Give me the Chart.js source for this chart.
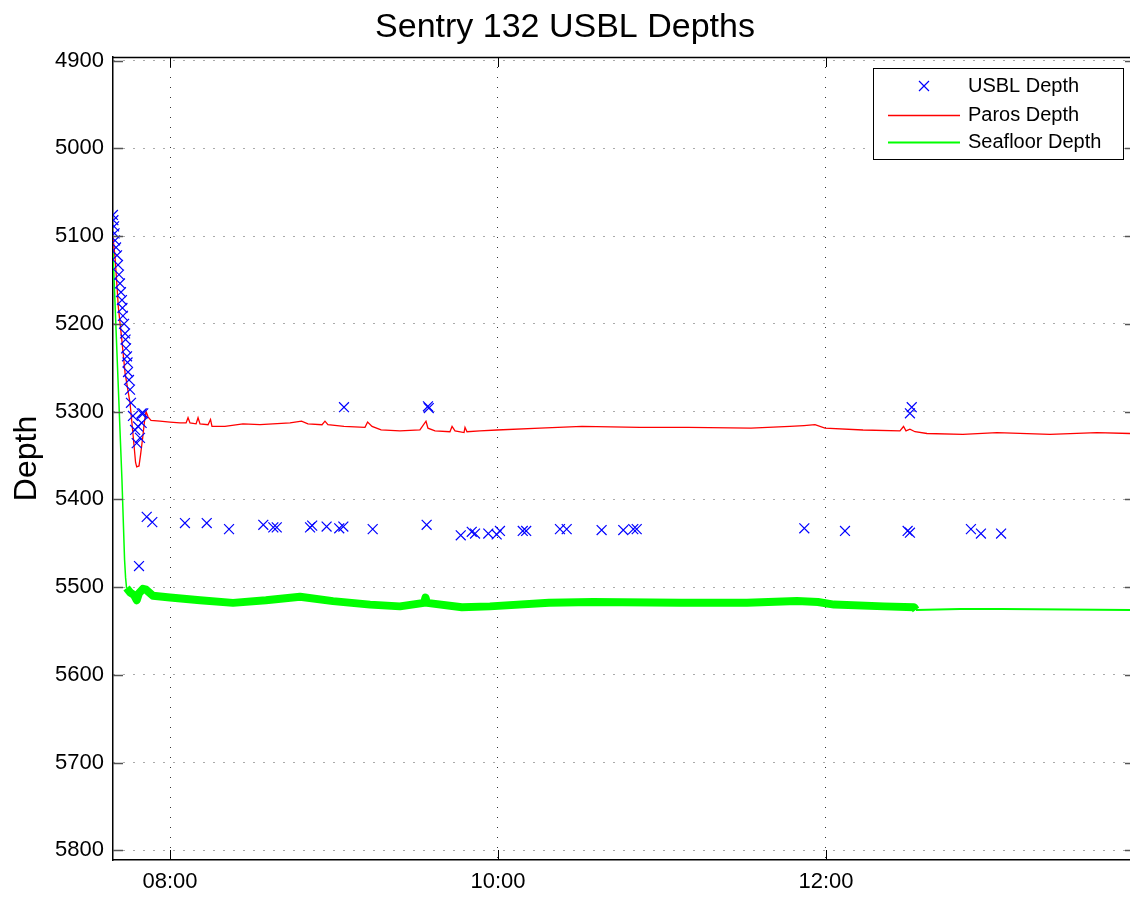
<!DOCTYPE html>
<html>
<head>
<meta charset="utf-8">
<title>Sentry 132 USBL Depths</title>
<script src="https://cdn.jsdelivr.net/npm/chart.js@4.4.0/dist/chart.umd.min.js"></script>
<style>
  html, body { margin: 0; padding: 0; background: #ffffff; }
  canvas { display: block; }
</style>
</head>
<body>
<canvas id="chart" width="1130" height="897"></canvas>
<script>
// Time of day in decimal hours, depth in metres.

// USBL fixes
const usblTime = [
  7.652, 7.655, 7.659, 7.662, 7.665, 7.671, 7.677, 7.683, 7.689, 7.695,
  7.701, 7.707, 7.710, 7.713, 7.720, 7.726, 7.729, 7.732, 7.738, 7.741,
  7.744, 7.750, 7.756, 7.762, 7.774, 7.787, 7.797, 7.805, 7.811, 7.817,
  7.827, 7.827, 7.837, 7.858, 7.892, 8.091, 8.224, 8.360, 8.569, 8.630,
  8.651, 8.854, 8.867, 8.955, 9.032, 9.057, 9.061, 9.236, 9.565, 9.573,
  9.578, 9.773, 9.840, 9.860, 9.941, 9.992, 10.012, 10.151, 10.172, 10.378,
  10.419, 10.632, 10.764, 10.825, 10.846, 11.868, 12.116, 12.498, 12.512, 12.512,
  12.523, 12.884, 12.945, 13.068
];
const usblDepth = [
  5076, 5082, 5089, 5097, 5105, 5113, 5122, 5133, 5144, 5154,
  5164, 5173, 5182, 5191, 5200, 5211, 5218, 5228, 5237, 5244,
  5255, 5264, 5275, 5290, 5305, 5321, 5336, 5317, 5476, 5330,
  5313, 5302, 5302, 5420, 5426, 5427, 5427, 5434, 5429, 5432,
  5432, 5432, 5430, 5431, 5433, 5431, 5295, 5434, 5429, 5294,
  5296, 5441, 5437, 5439, 5439, 5440, 5436, 5436, 5436, 5434,
  5434, 5435, 5435, 5434, 5434, 5433, 5436, 5436, 5438, 5302,
  5295, 5434, 5439, 5439
];

// Paros pressure depth
const parosTime = [
  7.652, 7.665, 7.685, 7.706, 7.726, 7.756, 7.776, 7.790, 7.797, 7.811,
  7.820, 7.834, 7.845, 7.854, 7.866, 7.884, 7.939, 8.000, 8.061, 8.098,
  8.110, 8.122, 8.159, 8.171, 8.183, 8.232, 8.247, 8.256, 8.335, 8.445,
  8.549, 8.732, 8.802, 8.841, 8.927, 8.945, 8.963, 9.061, 9.189, 9.205,
  9.232, 9.287, 9.402, 9.524, 9.561, 9.573, 9.616, 9.707, 9.720, 9.738,
  9.793, 9.799, 9.811, 9.890, 9.994, 10.256, 10.512, 10.866, 11.159, 11.543,
  11.780, 11.866, 11.933, 11.994, 12.226, 12.451, 12.473, 12.488, 12.512, 12.543,
  12.616, 12.835, 13.043, 13.366, 13.652, 13.854
];
const parosDepth = [
  5101, 5124, 5181, 5218, 5256, 5290, 5329, 5358, 5363, 5362,
  5350, 5329, 5310, 5300, 5306, 5310, 5311, 5312, 5313, 5313,
  5307, 5313, 5314, 5307, 5314, 5315, 5309, 5317, 5317, 5314,
  5315, 5313, 5311, 5314, 5315, 5311, 5315, 5317, 5318, 5312,
  5317, 5321, 5322, 5321, 5311, 5319, 5322, 5323, 5317, 5322,
  5324, 5318, 5323, 5322, 5321, 5319, 5317, 5318, 5318, 5319,
  5317, 5316, 5315, 5319, 5321, 5322, 5317, 5322, 5320, 5323,
  5325, 5326, 5324, 5326, 5324, 5325
];

// Seafloor depth (vehicle depth + altitude)
const seafloorTime = [
  7.652, 7.683, 7.707, 7.723, 7.729, 7.735, 7.756, 7.780, 7.797, 7.811,
  7.835, 7.854, 7.896, 8.000, 8.183, 8.384, 8.585, 8.793, 8.994, 9.220,
  9.402, 9.549, 9.558, 9.567, 9.780, 9.951, 10.311, 10.579, 11.116, 11.518,
  11.823, 11.951, 12.049, 12.354, 12.537, 12.549, 12.817, 13.079, 13.854
];
const seafloorDepth = [
  5116, 5264, 5378, 5469, 5489, 5501, 5506, 5509, 5515, 5507,
  5502, 5503, 5510, 5512, 5515, 5518, 5515, 5511, 5516, 5520,
  5522, 5518, 5512, 5518, 5523, 5522, 5518, 5517, 5518, 5518,
  5516, 5517, 5520, 5522, 5523, 5526, 5525, 5525, 5526
];

// Axis ticks
const timeTicks = [8, 10, 12];
const timeTickLabels = ['08:00', '10:00', '12:00'];
const depthTicks = [4900, 5000, 5100, 5200, 5300, 5400, 5500, 5600, 5700, 5800];

// Span where the altimeter-derived seafloor trace is noisy (drawn as a wide band)
const bottomLockStart = 7.735;
const bottomLockEnd = 12.545;

const FONT = "'Liberation Sans', Arial, Helvetica, sans-serif";
Chart.defaults.font.family = FONT;
Chart.defaults.color = '#000000';

const pts = (xs, ys) => xs.map((x, i) => ({ x: x, y: ys[i] }));

// Box frame with inward tick marks on all four sides
const framePlugin = {
  id: 'frame',
  afterDatasetsDraw(chart) {
    const { ctx, chartArea: a, scales: { x, y } } = chart;
    ctx.save();
    ctx.strokeStyle = '#000';
    ctx.lineWidth = 1.5;
    ctx.beginPath();
    ctx.moveTo(a.left, a.top + 0.5);
    ctx.lineTo(a.right, a.top + 0.5);
    ctx.moveTo(a.right + 1, a.top);
    ctx.lineTo(a.right + 1, a.bottom);
    ctx.stroke();

    ctx.strokeStyle = '#555';
    ctx.lineWidth = 1.5;
    ctx.beginPath();
    y.ticks.forEach(t => {
      const py = Math.round(y.getPixelForValue(t.value)) + 0.5;
      ctx.moveTo(a.left, py); ctx.lineTo(a.left + 10, py);
      ctx.moveTo(a.right, py); ctx.lineTo(a.right - 5, py);
    });
    ctx.stroke();

    ctx.strokeStyle = '#000';
    ctx.lineWidth = 1;
    ctx.beginPath();
    x.ticks.forEach(t => {
      const px = Math.round(x.getPixelForValue(t.value)) + 0.5;
      ctx.moveTo(px, a.bottom); ctx.lineTo(px, a.bottom - 10);
      ctx.moveTo(px, a.top); ctx.lineTo(px, a.top + 10);
    });
    ctx.stroke();
    ctx.restore();
  }
};

// Boxed legend in the upper-right corner of the axes
const boxLegendPlugin = {
  id: 'boxLegend',
  afterDraw(chart) {
    const { ctx, chartArea: a } = chart;
    const ds = chart.data.datasets;
    const w = 250, h = 91;
    const x0 = a.right - 257, y0 = a.top + 11;
    ctx.save();
    ctx.fillStyle = '#fff';
    ctx.fillRect(x0, y0, w, h);
    ctx.strokeStyle = '#000';
    ctx.lineWidth = 1;
    ctx.strokeRect(x0 + 0.5, y0 + 0.5, w, h);

    const rows = [18, 47, 74];
    ctx.font = '20px ' + FONT;
    ctx.textBaseline = 'middle';
    ctx.textAlign = 'left';
    ds.forEach((d, i) => {
      const ry = y0 + rows[i];
      if (d.showLine === false) {
        const cx = x0 + 51, r = 5;
        ctx.strokeStyle = d.borderColor;
        ctx.lineWidth = 1.2;
        ctx.beginPath();
        ctx.moveTo(cx - r, ry - r); ctx.lineTo(cx + r, ry + r);
        ctx.moveTo(cx + r, ry - r); ctx.lineTo(cx - r, ry + r);
        ctx.stroke();
      } else {
        ctx.strokeStyle = d.borderColor;
        ctx.lineWidth = d.legendLineWidth;
        ctx.beginPath();
        ctx.moveTo(x0 + 15, ry + 0.5); ctx.lineTo(x0 + 87, ry + 0.5);
        ctx.stroke();
      }
      ctx.fillStyle = '#000';
      ctx.fillText(d.label, x0 + 95, ry);
    });
    ctx.restore();
  }
};

new Chart(document.getElementById('chart'), {
  type: 'scatter',
  data: {
    datasets: [
      {
        label: 'USBL Depth',
        data: pts(usblTime, usblDepth),
        showLine: false,
        pointStyle: 'crossRot',
        pointRadius: 7,
        pointBorderWidth: 1.2,
        borderColor: '#0000ff',
        backgroundColor: '#0000ff'
      },
      {
        label: 'Paros Depth',
        data: pts(parosTime, parosDepth),
        showLine: true,
        borderColor: '#ff0000',
        borderWidth: 1.3,
        legendLineWidth: 1.3,
        pointRadius: 0,
        tension: 0
      },
      {
        label: 'Seafloor Depth',
        data: pts(seafloorTime, seafloorDepth),
        showLine: true,
        borderColor: '#00ff00',
        borderWidth: 1.5,
        legendLineWidth: 2,
        borderJoinStyle: 'round',
        pointRadius: 0,
        tension: 0,
        segment: {
          borderWidth: c => {
            const t = c.p0.parsed.x;
            if (t >= bottomLockStart && t < bottomLockEnd) return 8;
            return t >= bottomLockEnd ? 2 : 1.5;
          }
        }
      }
    ]
  },
  options: {
    responsive: false,
    animation: false,
    events: [],
    layout: { autoPadding: false, padding: { left: 0, right: 0, top: 0, bottom: 0 } },
    plugins: {
      legend: { display: false },
      tooltip: { enabled: false },
      title: {
        display: true,
        text: 'Sentry 132 USBL Depths',
        color: '#000',
        font: { size: 34, weight: 'normal', lineHeight: 1.2 },
        padding: { top: 7, bottom: 9.2 }
      }
    },
    scales: {
      x: {
        type: 'linear',
        min: 7.6524,
        max: 13.854,
        afterBuildTicks: s => { s.ticks = timeTicks.map(v => ({ value: v })); },
        afterFit: s => { s.height = 37; s.paddingLeft = 0; s.paddingRight = 0; },
        ticks: {
          callback: (v) => timeTickLabels[timeTicks.indexOf(v)],
          font: { size: 22 },
          color: '#000',
          padding: 9,
          maxRotation: 0,
          autoSkip: false
        },
        grid: { color: '#333', lineWidth: 1, drawTicks: false },
        border: { display: true, color: '#000', width: 1.5, dash: [1, 9] }
      },
      y: {
        type: 'linear',
        reverse: true,
        min: 4896,
        max: 5811,
        afterBuildTicks: s => { s.ticks = depthTicks.map(v => ({ value: v })); },
        afterFit: s => { s.width = 113; s.paddingTop = 0; s.paddingBottom = 0; },
        ticks: {
          callback: v => String(v),
          font: { size: 22 },
          color: '#000',
          padding: 9
        },
        title: {
          display: true,
          text: 'Depth',
          color: '#000',
          font: { size: 32, weight: 'normal', lineHeight: 1.2 },
          padding: { top: 8, bottom: 0 }
        },
        grid: { color: '#555', lineWidth: 1, drawTicks: false },
        border: { display: true, color: '#000', width: 1.5, dash: [1, 9] }
      }
    }
  },
  plugins: [framePlugin, boxLegendPlugin]
});
</script>
</body>
</html>
